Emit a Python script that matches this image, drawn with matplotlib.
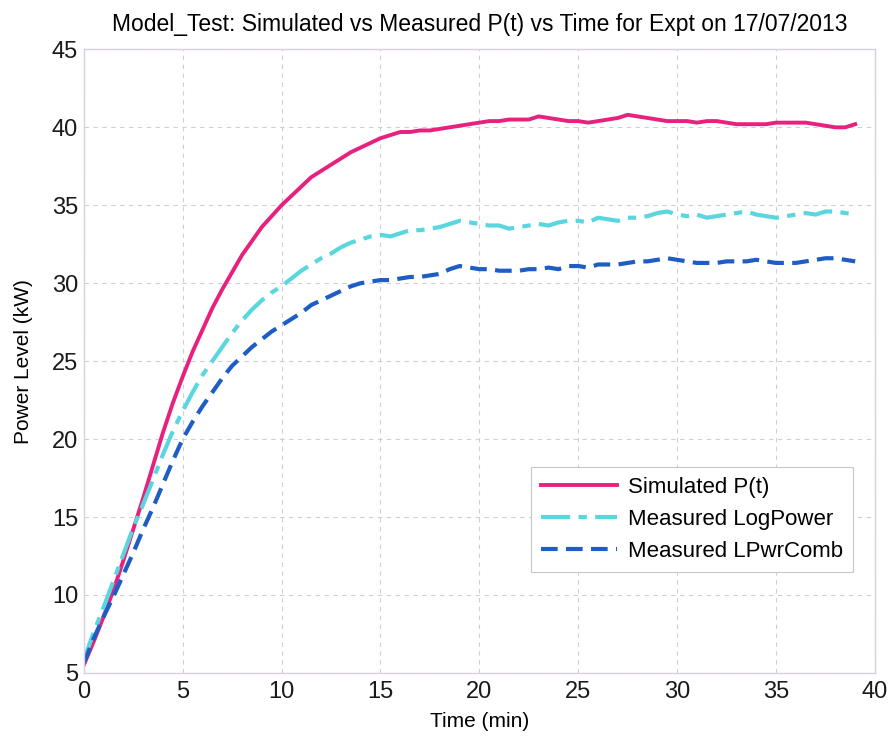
import numpy as np
import matplotlib
matplotlib.use('Agg')
import matplotlib.pyplot as plt

plt.rcParams['font.family'] = ['Liberation Sans', 'DejaVu Sans']

# time axis (min), one reading every half minute
time_min = np.arange(0, 39.01, 0.5)

# Simulated P(t) (kW)
sim_power = [
    5.5, 7.0, 8.6, 10.3, 12.2, 14.2, 16.2, 18.3, 20.4, 22.3,
    24.0, 25.6, 27.0, 28.4, 29.6, 30.7, 31.8, 32.7, 33.6, 34.3,
    35.0, 35.6, 36.2, 36.8, 37.2, 37.6, 38.0, 38.4, 38.7, 39.0,
    39.3, 39.5, 39.7, 39.7, 39.8, 39.8, 39.9, 40.0, 40.1, 40.2,
    40.3, 40.4, 40.4, 40.5, 40.5, 40.5, 40.7, 40.6, 40.5, 40.4,
    40.4, 40.3, 40.4, 40.5, 40.6, 40.8, 40.7, 40.6, 40.5, 40.4,
    40.4, 40.4, 40.3, 40.4, 40.4, 40.3, 40.2, 40.2, 40.2, 40.2,
    40.3, 40.3, 40.3, 40.3, 40.2, 40.1, 40.0, 40.0, 40.2,
]

# Measured LogPower (kW)
log_power = [
    5.8, 7.6, 9.2, 10.9, 12.6, 14.3, 15.8, 17.4, 19.0, 20.5,
    21.8, 23.0, 24.1, 25.0, 25.9, 26.8, 27.6, 28.3, 28.9, 29.4,
    29.8, 30.3, 30.8, 31.2, 31.6, 31.9, 32.3, 32.6, 32.8, 33.0,
    33.1, 33.0, 33.2, 33.4, 33.4, 33.5, 33.6, 33.8, 34.0, 33.9,
    33.8, 33.7, 33.7, 33.5, 33.6, 33.7, 33.8, 33.7, 33.9, 34.0,
    34.0, 33.9, 34.2, 34.1, 34.0, 34.2, 34.2, 34.3, 34.5, 34.6,
    34.4, 34.3, 34.4, 34.2, 34.3, 34.4, 34.5, 34.6, 34.4, 34.3,
    34.2, 34.3, 34.4, 34.5, 34.4, 34.6, 34.6, 34.5, 34.4,
]

# Measured LPwrComb (kW)
lpwr_comb = [
    5.6, 7.2, 8.6, 9.9, 11.3, 12.7, 14.2, 15.6, 17.1, 18.6,
    20.0, 21.1, 22.1, 23.0, 23.9, 24.7, 25.3, 25.9, 26.4, 26.9,
    27.3, 27.7, 28.1, 28.6, 28.9, 29.2, 29.5, 29.8, 30.0, 30.1,
    30.2, 30.2, 30.3, 30.4, 30.4, 30.5, 30.6, 30.9, 31.1, 31.0,
    30.9, 30.9, 30.8, 30.8, 30.8, 30.9, 30.9, 31.0, 30.9, 31.1,
    31.1, 31.0, 31.2, 31.2, 31.2, 31.3, 31.4, 31.4, 31.5, 31.6,
    31.5, 31.4, 31.3, 31.3, 31.3, 31.4, 31.4, 31.4, 31.5, 31.4,
    31.3, 31.3, 31.3, 31.4, 31.5, 31.6, 31.6, 31.5, 31.4,
]

fig = plt.figure(figsize=(8.91, 7.37), dpi=100)
ax = fig.add_axes([0.094, 0.087, 0.888, 0.846])

ax.plot(time_min, sim_power, color='#e8207e', lw=2.8, label='Simulated P(t)')
ax.plot(time_min, log_power, color='#5ad6df', lw=3.0, linestyle=(0, (7, 2, 2, 2)),
        label='Measured LogPower')
ax.plot(time_min, lpwr_comb, color='#1e5ec4', lw=3.0, linestyle=(0, (4, 2)),
        label='Measured LPwrComb')

ax.set_xlim(0, 40)
ax.set_ylim(5, 45)
ax.set_xticks(range(0, 41, 5))
ax.set_yticks(range(5, 46, 5))
ax.grid(True, linestyle=(0, (4, 4)), color='#cfcfd8', lw=0.8)
for s in ax.spines.values():
    s.set_color('#d8d0dc')
    s.set_linewidth(1.0)
ax.tick_params(length=0, labelsize=17, colors='#1a1a1a')
ax.tick_params(axis='y', pad=4)
ax.tick_params(axis='x', pad=6)

ax.set_xlabel('Time (min)', fontsize=15, labelpad=6)
ax.set_ylabel('Power Level (kW)', fontsize=15, labelpad=14)
ax.set_title('Model_Test: Simulated vs Measured P(t) vs Time for Expt on 17/07/2013',
             fontsize=16.5, pad=13)

leg = ax.legend(loc='lower right', bbox_to_anchor=(0.972, 0.162), borderaxespad=0,
                fontsize=16, handlelength=3.4, fancybox=False, framealpha=1,
                borderpad=0.45, labelspacing=0.5, handletextpad=0.5)
leg.get_frame().set_edgecolor('#c8c8c8')
leg.get_frame().set_linewidth(0.8)

fig.savefig('out.png', dpi=100)
